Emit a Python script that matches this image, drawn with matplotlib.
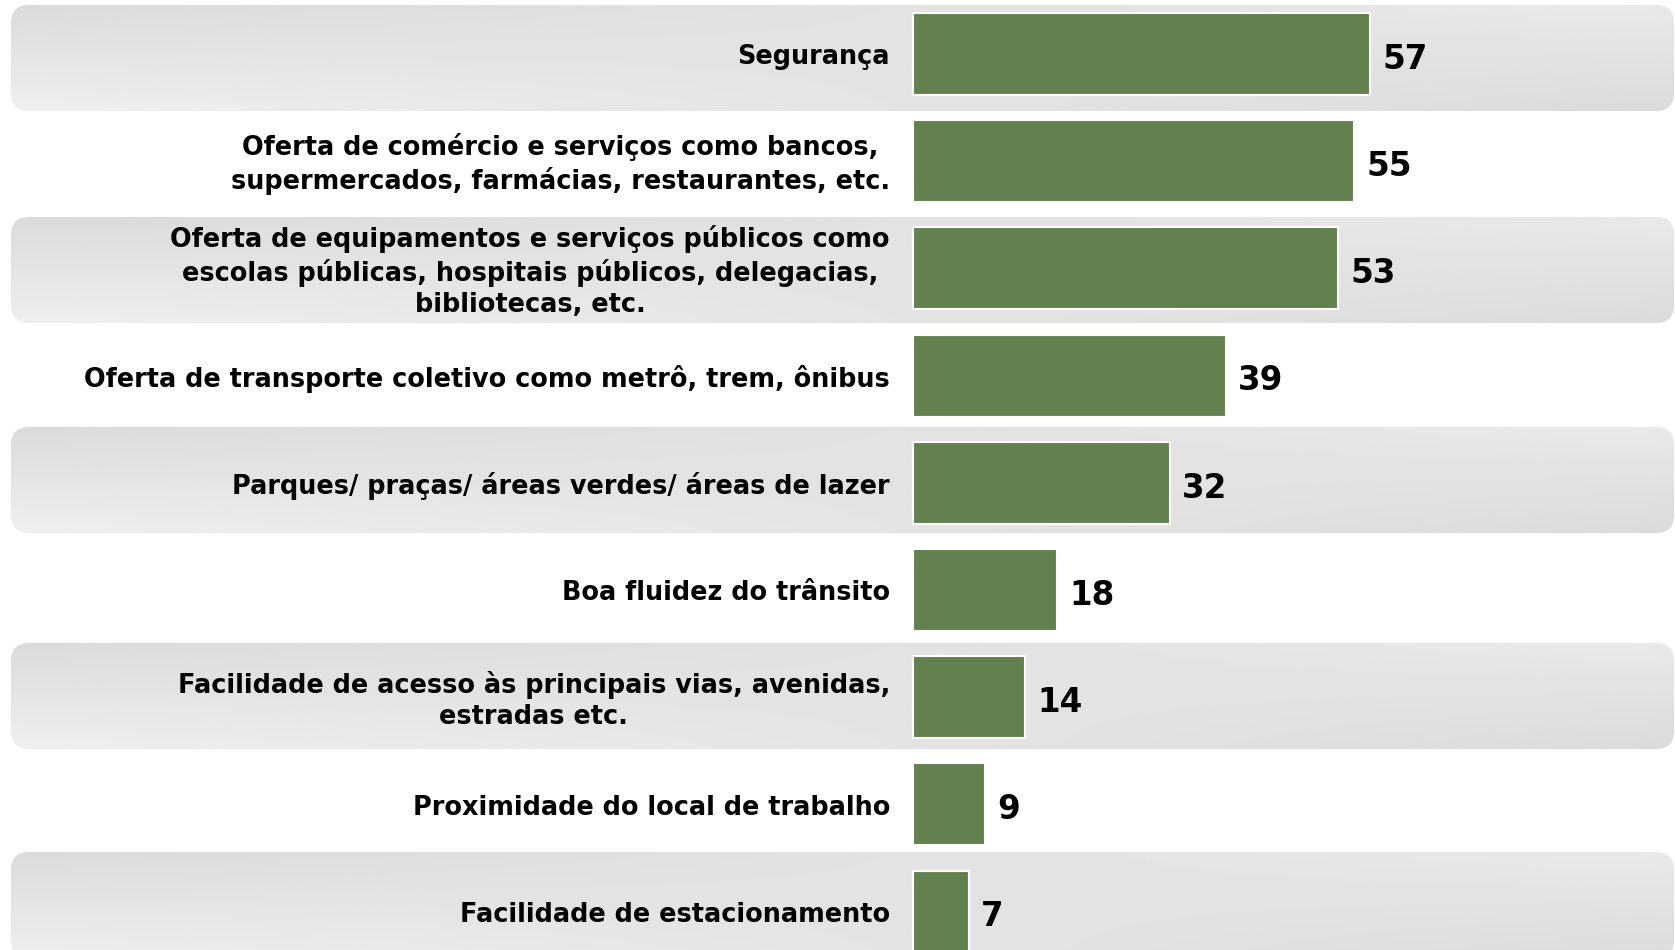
import numpy as np
import matplotlib
matplotlib.use("Agg")
import matplotlib.pyplot as plt
from matplotlib.patches import FancyBboxPatch

categories = [
    "Segurança",
    "Oferta de comércio e serviços como bancos,\nsupermercados, farmácias, restaurantes, etc.",
    "Oferta de equipamentos e serviços públicos como\nescolas públicas, hospitais públicos, delegacias,\nbibliotecas, etc.",
    "Oferta de transporte coletivo como metrô, trem, ônibus",
    "Parques/ praças/ áreas verdes/ áreas de lazer",
    "Boa fluidez do trânsito",
    "Facilidade de acesso às principais vias, avenidas,\nestradas etc.",
    "Proximidade do local de trabalho",
    "Facilidade de estacionamento",
]
values = [57, 55, 53, 39, 32, 18, 14, 9, 7]

W, H = 1675, 950
fig = plt.figure(figsize=(W / 100, H / 100), dpi=100)
fig.patch.set_facecolor("white")

# background bands in pixel coordinates (layout)
bg = fig.add_axes([0, 0, 1, 1])
bg.set_xlim(0, W)
bg.set_ylim(H, 0)
bg.axis("off")

band_tops = [5, 217, 427, 643, 852]
band_h = 106
nx, ny = 200, 40
xx = np.linspace(0, 1, nx)[None, :]
yy = np.linspace(0, 1, ny)[:, None]
t = yy * (1 - xx) + (1 - yy) * xx * 0.7
grad = 0.858 + 0.078 * t
for top in band_tops:
    bot = top + band_h
    left, right = 11, 1674
    patch = FancyBboxPatch((left, top), right - left, bot - top,
                           boxstyle="round,pad=0,rounding_size=18",
                           facecolor="none", edgecolor="none")
    bg.add_patch(patch)
    im = bg.imshow(grad, cmap="gray", vmin=0, vmax=1, aspect="auto",
                   extent=(left, right, bot, top), interpolation="bilinear")
    im.set_clip_path(patch)

# main axes
pitch = 107.2
c0 = 54.0
ax = fig.add_axes([0, 0, 1, 1])
ax.patch.set_alpha(0)
px_per_unit = 8.02
x0 = 913
ax.set_xlim(-x0 / px_per_unit, (W - x0) / px_per_unit)
ax.set_ylim((H - c0) / pitch, -c0 / pitch)
ax.axis("off")

y = np.arange(len(values))
ax.barh(y, values, height=0.765, color="#63814f", edgecolor="white", linewidth=1.5)

lab_x = -(x0 - 890) / px_per_unit
for yi, cat, v in zip(y, categories, values):
    ax.text(lab_x, yi + 0.03, cat, ha="right", va="center", multialignment="center",
            fontsize=18.4, fontweight="bold", family="DejaVu Sans",
            color="black", linespacing=1.28)
    ax.text(v + 12 / px_per_unit, yi + 0.05, str(v), ha="left", va="center",
            fontsize=23.5, fontweight="bold", family="DejaVu Sans", color="black")

fig.savefig("out.png", dpi=100)
